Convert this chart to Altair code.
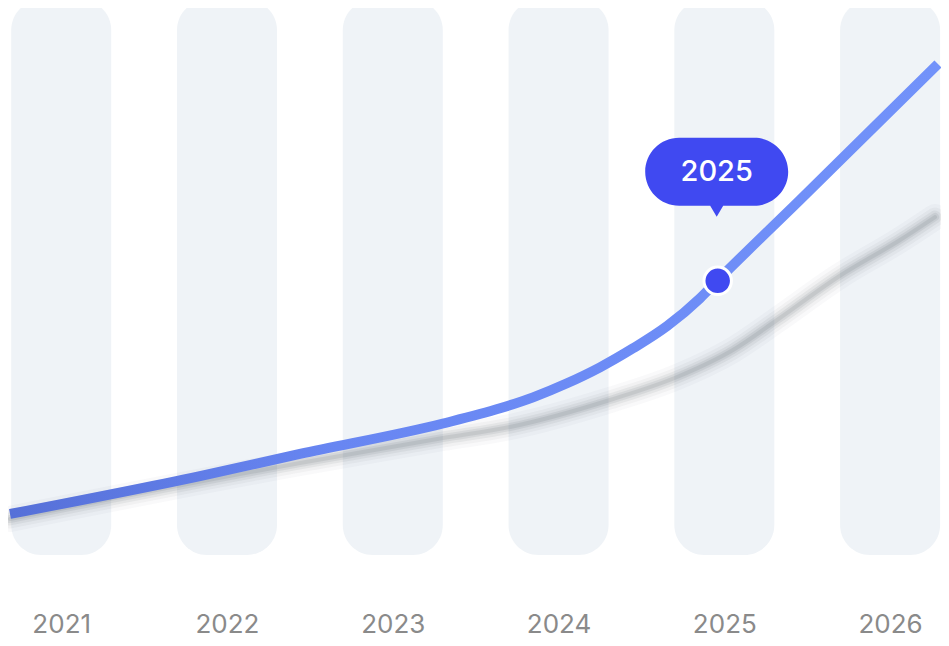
import altair as alt
import pandas as pd

# ---- data ----
years = [2021, 2022, 2023, 2024, 2025, 2026]

line_x = [2020.691, 2021.837, 2022.440, 2023.303, 2023.647, 2023.846, 2024.051,
          2024.250, 2024.449, 2024.655, 2024.853, 2024.956, 2025.456, 2026.289]
line_y = [7.39, 14.23, 18.20, 23.69, 26.43, 28.41, 30.94,
          33.82, 37.24, 41.26, 46.25, 49.37, 63.96, 88.47]

shadow_x = [2020.691, 2022.440, 2023.303, 2023.707, 2024.310, 2024.715, 2025.052,
            2025.318, 2025.686, 2026.060, 2026.271]
shadow_y = [6.49, 16.58, 21.08, 23.06, 27.93, 32.07, 36.94, 42.34, 50.09, 56.76, 60.90]

point_x = [2024.96]
point_y = [49.4]
point_label = ["2025"]

bar_top = 100
bar_bottom = 0

# ---- tables ----
df_bars = pd.DataFrame({"year": years})
df_line = pd.DataFrame({"x": line_x, "v": line_y})
df_shadow = pd.DataFrame({"x": shadow_x, "v": shadow_y})
df_point = pd.DataFrame({"x": point_x, "v": point_y, "label": point_label})

xs = alt.Scale(domain=[2020.679, 2026.307], nice=False, zero=False, padding=0)
ys = alt.Scale(domain=[-8.11, 98.56], nice=False, zero=False, padding=0)

x_axis = alt.Axis(values=years, format="d", title=None, domain=False, ticks=False,
                  tickSize=0, grid=False, labelFontSize=26, labelColor="#8a8a8a",
                  labelFont="Inter", labelPadding=32, labelBaseline="alphabetic",
                  labelFlush=False, labelOverlap=False)


def X(field):
    return alt.X(field, scale=xs, axis=x_axis)


def Y(field):
    return alt.Y(field, scale=ys, axis=None)


bars = alt.Chart(df_bars).mark_bar(width=100, cornerRadius=30, color="#EFF3F7").encode(
    x=X("year:Q"),
    y=alt.YDatum(bar_top, type="quantitative", scale=ys, axis=None),
    y2=alt.Y2Datum(bar_bottom),
)

shadow_layers = []
for w, op in [(26, 0.03), (19, 0.045), (13, 0.065), (8, 0.085), (4, 0.10)]:
    shadow_layers.append(
        alt.Chart(df_shadow).mark_line(interpolate="monotone", strokeWidth=w, opacity=op,
                                       color="#3f4650", strokeCap="round").encode(
            x=X("x:Q"), y=Y("v:Q"),
        )
    )

grad = alt.Gradient(
    gradient="linear",
    stops=[alt.GradientStop(color="#5670D8", offset=0),
           alt.GradientStop(color="#6886F2", offset=0.35),
           alt.GradientStop(color="#7292FA", offset=1)],
    x1=0, x2=1, y1=0, y2=0,
)

main_line = alt.Chart(df_line).mark_line(interpolate="monotone", strokeWidth=10,
                                         stroke=grad, strokeCap="butt").encode(
    x=X("x:Q"), y=Y("v:Q"),
)

point = alt.Chart(df_point).mark_circle(size=755, color="#4049F1", stroke="white",
                                        strokeWidth=3, opacity=1).encode(
    x=X("x:Q"), y=Y("v:Q"),
)

# speech bubble shape: rounded pill with a small pointer, in [-1,1] units
r = 0.4755
k = 0.2626
cx = 0.5245
bubble_path = (
    f"M{-cx},{-r} L{cx},{-r} "
    f"C{cx + k},{-r} 1,{-k} 1,0 "
    f"C1,{k} {cx + k},{r} {cx},{r} "
    f"L0.091,{r} L0,0.629 L-0.091,{r} "
    f"L{-cx},{r} "
    f"C{-cx - k},{r} -1,{k} -1,0 "
    f"C-1,{-k} {-cx - k},{-r} {-cx},{-r} Z"
)

bubble = alt.Chart(df_point).mark_point(shape=bubble_path, size=20449, filled=True,
                                        fill="#4049F1", strokeWidth=0, opacity=1,
                                        yOffset=-109, xOffset=-1).encode(
    x=X("x:Q"), y=Y("v:Q"),
)

bubble_text = alt.Chart(df_point).mark_text(font="Inter", fontSize=29, fontWeight=500,
                                            color="white", align="center",
                                            baseline="middle", dy=-109, dx=-1).encode(
    x=X("x:Q"), y=Y("v:Q"),
    text="label:N",
)

chart = alt.layer(bars, *shadow_layers, main_line, point, bubble, bubble_text).properties(
    width=933, height=592,
    autosize=alt.AutoSizeParams(type="none"),
    padding={"left": 0, "top": 0, "right": 0, "bottom": 38},
    background="white",
).configure_view(stroke=None)

chart.save("out.html", embed_options={"renderer": "svg", "actions": False})
